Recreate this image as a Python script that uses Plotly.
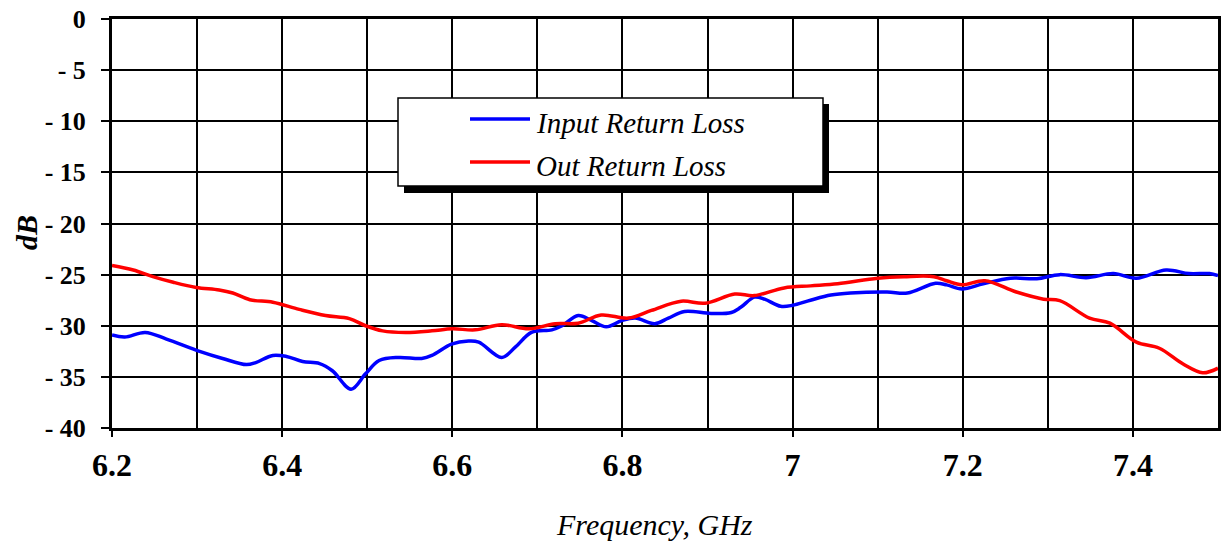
import plotly.graph_objects as go

# ---- data ----
freq_in = [6.200, 6.215, 6.239, 6.264, 6.303, 6.330, 6.358, 6.369, 6.389, 6.405,
           6.424, 6.444, 6.459, 6.481, 6.498, 6.514, 6.537, 6.564, 6.576, 6.599,
           6.619, 6.631, 6.658, 6.674, 6.693, 6.717, 6.729, 6.748, 6.764, 6.781,
           6.799, 6.815, 6.838, 6.854, 6.873, 6.904, 6.928, 6.939, 6.955, 6.967,
           6.986, 7.000, 7.021, 7.045, 7.068, 7.111, 7.135, 7.168, 7.181, 7.199,
           7.224, 7.256, 7.287, 7.314, 7.345, 7.377, 7.404, 7.439, 7.466, 7.490, 7.500]
input_rl = [-30.9, -31.1, -30.65, -31.3, -32.5, -33.2, -33.8, -33.6, -32.9, -33.0,
            -33.5, -33.7, -34.4, -36.2, -34.7, -33.4, -33.1, -33.2, -32.9, -31.8,
            -31.5, -31.6, -33.1, -32.1, -30.65, -30.4, -30.0, -29.0, -29.5, -30.1,
            -29.5, -29.25, -29.8, -29.25, -28.6, -28.8, -28.7, -28.2, -27.2, -27.4,
            -28.1, -28.0, -27.5, -27.0, -26.8, -26.7, -26.8, -25.85, -26.0, -26.4,
            -25.9, -25.35, -25.4, -25.0, -25.3, -24.9, -25.35, -24.55, -24.9, -24.9, -25.1]

freq_out = [6.200, 6.225, 6.248, 6.272, 6.299, 6.326, 6.342, 6.362, 6.389, 6.420,
            6.451, 6.479, 6.498, 6.518, 6.545, 6.576, 6.600, 6.627, 6.658, 6.690,
            6.721, 6.748, 6.775, 6.807, 6.834, 6.869, 6.897, 6.932, 6.955, 6.990,
            7.021, 7.053, 7.100, 7.131, 7.166, 7.181, 7.199, 7.226, 7.263, 7.295,
            7.314, 7.349, 7.373, 7.404, 7.431, 7.459, 7.482, 7.500]
output_rl = [-24.1, -24.55, -25.2, -25.75, -26.25, -26.5, -26.8, -27.45, -27.7, -28.4,
             -29.0, -29.3, -30.0, -30.5, -30.65, -30.5, -30.3, -30.4, -29.9, -30.3,
             -29.8, -29.75, -28.95, -29.25, -28.5, -27.6, -27.8, -26.9, -27.05, -26.3,
             -26.1, -25.9, -25.35, -25.2, -25.2, -25.6, -26.0, -25.6, -26.7, -27.4,
             -27.55, -29.25, -29.75, -31.6, -32.2, -33.75, -34.6, -34.15]

x_tickvals = [6.2, 6.4, 6.6, 6.8, 7.0, 7.2, 7.4]
x_ticktext = ["6.2", "6.4", "6.6", "6.8", "7", "7.2", "7.4"]
y_tickvals = [0, -5, -10, -15, -20, -25, -30, -35, -40]
y_ticktext = ["0", "- 5", "- 10", "- 15", "- 20", "- 25", "- 30", "- 35", "- 40"]

series_names = ["Input Return Loss", "Out Return Loss"]
series_colors = ["#0000FF", "#FF0000"]

# ---- layout geometry (page pixels; body margin is removed by post_script) ----
W, H = 1224, 550
PLOT_L, PLOT_R, PLOT_T, PLOT_B = 112, 1218, 19, 428   # page coords of plot area
L = PLOT_L
T = PLOT_T
R = W - PLOT_R
B = H - PLOT_B
PW, PH = PLOT_R - PLOT_L, PLOT_B - PLOT_T


def px(x):
    return (x - PLOT_L) / PW


def py(y):
    return (PLOT_B - y) / PH


FONT = "Liberation Serif"

fig = go.Figure()
fig.add_trace(go.Scatter(x=freq_in, y=input_rl, mode="lines", name=series_names[0],
                         line=dict(color=series_colors[0], width=3.5, shape="spline", smoothing=1.0)))
fig.add_trace(go.Scatter(x=freq_out, y=output_rl, mode="lines", name=series_names[1],
                         line=dict(color=series_colors[1], width=3.5, shape="spline", smoothing=1.0)))

# manual legend box with drop shadow
shapes = [
    dict(type="rect", xref="paper", yref="paper", x0=px(404), x1=px(829), y0=py(104), y1=py(193),
         fillcolor="black", line=dict(width=0), layer="above"),
    dict(type="rect", xref="paper", yref="paper", x0=px(398), x1=px(823), y0=py(98), y1=py(186),
         fillcolor="white", line=dict(color="black", width=1.5), layer="above"),
    dict(type="line", xref="paper", yref="paper", x0=px(470), x1=px(530), y0=py(119), y1=py(119),
         line=dict(color=series_colors[0], width=3.5), layer="above"),
    dict(type="line", xref="paper", yref="paper", x0=px(470), x1=px(530), y0=py(162), y1=py(162),
         line=dict(color=series_colors[1], width=3.5), layer="above"),
]
annotations = [
    dict(xref="paper", yref="paper", x=px(534), y=py(123), text=series_names[0], showarrow=False,
         xanchor="left", yanchor="middle", font=dict(family=FONT, size=29, color="black", style="italic")),
    dict(xref="paper", yref="paper", x=px(534), y=py(166), text=series_names[1], showarrow=False,
         xanchor="left", yanchor="middle", font=dict(family=FONT, size=29, color="black", style="italic")),
    dict(xref="paper", yref="paper", x=px(26), y=py(233), text="dB", showarrow=False, textangle=-90,
         xanchor="center", yanchor="middle",
         font=dict(family=FONT, size=30, color="black", style="italic", weight="bold")),
    dict(xref="paper", yref="paper", x=px(654), y=py(524), text="Frequency, GHz", showarrow=False,
         xanchor="center", yanchor="middle", font=dict(family=FONT, size=30, color="black", style="italic")),
]

fig.update_layout(
    width=W, height=H,
    margin=dict(l=L, r=R, t=T, b=B, pad=0, autoexpand=False),
    paper_bgcolor="white", plot_bgcolor="white",
    showlegend=False,
    shapes=shapes, annotations=annotations,
    xaxis=dict(
        range=[6.2, 7.5], tickmode="array", tickvals=x_tickvals, ticktext=x_ticktext,
        automargin=False,
        showgrid=True, gridcolor="black", gridwidth=2,
        minor=dict(tick0=6.2, dtick=0.1, showgrid=True, gridcolor="black", gridwidth=2, ticks=""),
        showline=True, linecolor="black", linewidth=3, mirror=True,
        ticks="outside", ticklen=6, tickwidth=2, tickcolor="black",
        ticklabelstandoff=1, ticklabeloverflow="allow",
        tickfont=dict(family=FONT, size=32, color="black", weight="bold"),
        zeroline=False,
    ),
    yaxis=dict(
        range=[-40, 0], tickmode="array", tickvals=y_tickvals, ticktext=y_ticktext,
        automargin=False,
        showgrid=True, gridcolor="black", gridwidth=2,
        showline=True, linecolor="black", linewidth=3, mirror=True,
        ticks="outside", ticklen=8, tickwidth=2, tickcolor="black",
        ticklabelstandoff=10, ticklabeloverflow="allow",
        tickfont=dict(family=FONT, size=26, color="black", weight="bold"),
        zeroline=False,
    ),
)

fig.write_html("out.html", config={"displayModeBar": False},
               post_script="document.body.style.margin='0';document.body.style.overflow='hidden';")
